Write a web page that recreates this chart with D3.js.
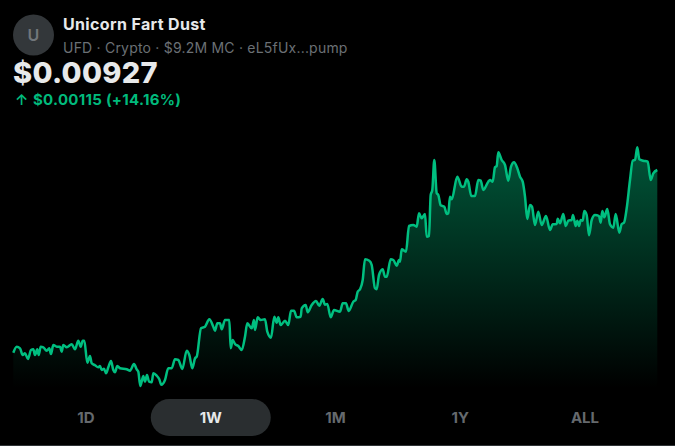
<!DOCTYPE html>
<html><head><meta charset="utf-8">
<script src="https://cdn.jsdelivr.net/npm/d3@7/dist/d3.min.js"></script>
<style>html,body{margin:0;padding:0;background:#000;overflow:hidden}svg{display:block}text{font-family:Inter,"Noto Sans",sans-serif}</style>
</head><body><div id="c"></div>
<script>
const title="Unicorn Fart Dust";
const subtitle="UFD · Crypto · $9.2M MC · eL5fUx...pump";
const price="$0.00927";
const change="$0.00115 (+14.16%)";
const ranges=["1D","1W","1M","1Y","ALL"];
const activeRange="1W";
// relative time along the week (0-645) and relative price level (0-240)
const times=[0.3,3.7,7,9.7,12,15,18,20.3,22,24.3,25.7,27.7,30.3,33.7,36.3,38,40.3,43.7,47,48.7,50.3,53.7,58.7,62,65.3,67.7,69.7,71.3,74.3,77,78.7,82,85.3,87,88.7,91,93,95.3,98,100.3,102,104.3,107,113.7,117,121,123.7,125.3,127.3,130.3,132,134,136,138.7,140.3,143.7,146.3,148.3,152,155.3,158.7,162,165.3,169.3,173.7,176.3,179.3,182,183.7,188,192,196.3,200.3,202,204.3,207,208.7,212,215.3,216.3,217.7,219.7,222,225.3,228.7,232,234.3,238.7,241,242,244.7,247.7,252,254.3,258,261.3,263.7,265.3,267.7,272,275.3,278,281,283.7,287.7,288.7,292.7,294.7,298.7,303,306.3,309.7,312,314.3,317.7,321,327,329.7,333,335.7,340.3,342.7,344.7,347,349.7,352,356.3,358.7,362,363.7,366,369.7,372,373.7,377.7,380.3,383.7,386,387,388.7,393,396,400.3,403.7,406,408.7,412,413.7,416,417.7,419.3,421.3,423.7,425.3,427.7,431.3,433.7,435.3,437,438.7,444.3,448.7,451,453.7,455.3,458.3,462,465.3,467.7,470.3,475.3,477,479.7,482,483.7,485.3,488.7,492,495.3,498,501,504.3,507,509.7,512,514.3,517,519,522,525.3,528.7,533,537,539.7,543.7,544.7,547,550.3,552.7,555.3,558.7,560,562.7,564.3,566,567.7,569.7,571.3,573.7,576,578.7,582,586,587.7,589.3,591.3,594.3,597,600.3,602.7,606.3,608.7,611,613.7,617,619.7,622,624.3,626.3,630.3,634.7,637.7,640.3,644.3];
const levels=[35.3,41.3,39.7,33,34.7,29,38,38.7,33,38.7,33,41.3,40.7,37.3,39.7,34,43,41.3,41.3,36.3,43,40.7,43.7,38.7,47.3,41.3,47.3,47.3,25.3,32,24.7,22.7,20.7,22,18,19.3,14.7,20.7,27,18,15.7,22,19.7,18.7,17.3,24,18.7,16.3,2,12,6.3,13,6.3,5.7,14.7,12.3,8.7,3.3,8,19.7,19.7,28.7,28,19,37.3,33,19.7,29.7,31.3,59.7,61.3,68.7,61.3,57.3,64.7,64.7,58.7,68,68,68,39.7,48,44,42,38,51.3,64.7,59.7,68,58,70.7,68,68.7,56.3,50.3,71.3,65.3,70.7,63,67.3,63,77.3,77.3,70.7,71.3,79.7,83,75.7,83,87,82.3,89,83.3,84,70.7,78,76.3,84.7,84.7,77,86.3,88,96.3,98.7,108,128.7,127.3,123,99.7,98.7,113,118.7,111.3,111.3,128.7,128,122.3,128,126.3,138.7,136.3,162,163,161.3,174.7,169.7,174,151.3,152,193,198,228,194.7,193,182.7,181.3,174,174.7,191.3,188.7,211.3,201.3,201.3,208.7,206.3,192,192,208,207.3,198,206.3,208,206.3,220.7,222,235.7,228,223,207.3,221.3,225.7,219.7,211.3,206.3,191.3,169,183,181.3,163,176.3,163,172,158,163.7,164,169.3,164.7,174,162,167.3,168,173,162,167.3,162,168,167.3,177,173,152.7,168,173,172,165.3,177,170.7,179,163.7,160.3,174,155.3,164,165.3,179.7,208,227.3,228,240.7,228.7,227.3,226.3,208,214.7,218];

const W=675,H=446;
const svg=d3.select("#c").append("svg").attr("width",W).attr("height",H);
svg.append("rect").attr("width",W).attr("height",H).attr("fill","#000");
const x=d3.scaleLinear().domain([0,645]).range([13,658]);
const y=d3.scaleLinear().domain([0,240]).range([388,148]);
const pts=d3.zip(times,levels);
const grad=svg.append("defs").append("linearGradient").attr("id","g").attr("gradientUnits","userSpaceOnUse")
  .attr("x1",0).attr("x2",0).attr("y1",y(240)).attr("y2",y(0));
grad.append("stop").attr("offset",0).attr("stop-color","#00b97a").attr("stop-opacity",0.46);
grad.append("stop").attr("offset",1).attr("stop-color","#00b97a").attr("stop-opacity",0);
svg.append("path").datum(pts).attr("fill","url(#g)")
  .attr("d",d3.area().x(d=>x(d[0])).y0(y(0)).y1(d=>y(d[1])).curve(d3.curveMonotoneX));
svg.append("path").datum(pts).attr("fill","none").attr("stroke","#00bf80").attr("stroke-width",2.5).attr("stroke-linejoin","round")
  .attr("d",d3.line().x(d=>x(d[0])).y(d=>y(d[1])).curve(d3.curveMonotoneX));

// header
svg.append("circle").attr("cx",33.5).attr("cy",35).attr("r",20.5).attr("fill","#33373a");
svg.append("text").attr("x",33.5).attr("y",41).attr("text-anchor","middle").attr("font-size",16).attr("font-weight",600).attr("fill","#71767b").text("U");
svg.append("text").attr("x",63).attr("y",30).attr("font-size",16).attr("font-weight",700).attr("letter-spacing",0.35).attr("fill","#e7e9ea").text(title);
svg.append("text").attr("x",63).attr("y",53).attr("font-size",14).attr("font-weight",400).attr("letter-spacing",0.21).attr("fill","#6b7075").text(subtitle);
svg.append("text").attr("x",13).attr("y",83).attr("font-size",29).attr("font-weight",800).attr("letter-spacing",0.3).attr("fill","#e7e9ea").text(price);
svg.append("text").attr("x",15).attr("y",105).attr("font-size",15).attr("font-weight",600).attr("fill","#00ba7c").text("↑");
svg.append("text").attr("x",33).attr("y",105).attr("font-size",15).attr("font-weight",700).attr("letter-spacing",0.28).attr("fill","#00ba7c").text(change);

// range selector
const rx=d3.scalePoint().domain(ranges).range([86,585]);
svg.append("rect").attr("x",rx(activeRange)-60).attr("y",399).attr("width",120).attr("height",37).attr("rx",18.5).attr("fill","#2a2e30");
svg.selectAll("text.r").data(ranges).join("text").attr("class","r")
  .attr("x",d=>rx(d)).attr("y",423).attr("text-anchor","middle").attr("font-size",15).attr("font-weight",700)
  .attr("fill",d=>d===activeRange?"#e7e9ea":"#65696d").text(d=>d);
svg.append("rect").attr("x",0).attr("y",445).attr("width",W).attr("height",1).attr("fill","#2f3336");
</script></body></html>
